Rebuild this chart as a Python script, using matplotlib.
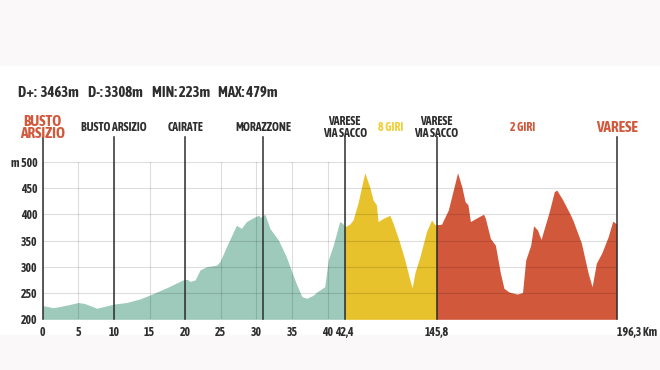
import numpy as np
import matplotlib
matplotlib.use('Agg')
import matplotlib.pyplot as plt
from matplotlib import font_manager
from matplotlib.patches import Rectangle


def peso(w):
    if isinstance(w, str):
        return 700 if 'bold' in w or 'black' in w or 'heavy' in w else 400
    return w


# cerca un carattere stretto e grassetto, non corsivo
candidati = []
for f in font_manager.fontManager.ttflist:
    stretto_nome = 'Narrow' in f.name or 'Condensed' in f.name
    stretto_st = f.stretch in ('condensed', 'semi-condensed', 'extra-condensed') or \
        (isinstance(f.stretch, int) and f.stretch < 500)
    if (stretto_nome or stretto_st) and peso(f.weight) >= 600 and f.style == 'normal':
        candidati.append((f.name, f.stretch, f.weight))
candidati.sort(key=lambda c: (abs(peso(c[2]) - 700), str(c)))
if candidati:
    fam, st, wt = candidati[0]
else:
    fam, st, wt = 'DejaVu Sans', 'normal', 'bold'

plt.rcParams['font.family'] = [fam, 'DejaVu Sans']
plt.rcParams['font.stretch'] = st
plt.rcParams['font.weight'] = wt
plt.rcParams['font.style'] = 'normal'

# profilo altimetrico (km reali, quota m)
km_verde = [0, 1.5, 3.4, 5.0, 5.9, 7.6, 8.5, 10.0, 11.8, 13.7, 15.0, 17.4, 19.7, 20.3,
            20.7, 21.4, 22.1, 23.0, 24.4, 24.9, 25.8, 27.2, 27.9, 28.6, 29.8, 30.3,
            30.6, 31.2, 31.9, 33.1, 34.2, 35.6, 36.4, 37.1, 38.0, 38.5, 39.6, 40.1,
            40.8, 41.7, 42.1, 42.4]
q_verde = [226, 222, 227, 232, 230, 221, 224, 229, 232, 239, 246, 260, 275, 276,
           272, 275, 294, 300, 303, 310, 338, 379, 373, 386, 395, 398,
           394, 400, 373, 351, 319, 268, 243, 240, 246, 252, 262, 313,
           341, 386, 383, 376]

km_giallo = [42.4, 48.0, 51.8, 57.4, 65.0, 70.6, 74.4, 78.1, 80.0, 85.6, 93.2, 96.9,
             104.5, 110.1, 115.8, 118.4, 121.4, 127.1, 134.5, 140.2, 144.0, 145.8]
q_giallo = [376, 381, 389, 421, 479, 452, 427, 418, 386, 392, 398, 383,
            345, 313, 275, 260, 288, 319, 367, 389, 380, 380]

km_rosso = [145.8, 147.2, 149.1, 150.5, 151.7, 152.9, 153.8, 154.6, 155.3, 157.6, 159.0,
            159.5, 160.9, 162.3, 163.7, 164.7, 166.1, 168.4, 169.9, 170.8, 172.2, 173.0,
            174.1, 175.1, 176.0, 177.4, 178.8, 179.5, 181.2, 183.1, 184.0, 186.4, 188.3,
            189.4, 190.6, 192.1, 193.9, 195.2, 196.3]
q_rosso = [380, 381, 408, 446, 479, 452, 424, 418, 386, 395, 400,
           392, 354, 341, 288, 259, 252, 248, 251, 313, 341, 378,
           370, 352, 373, 405, 443, 446, 427, 402, 389, 345, 288,
           262, 307, 326, 357, 387, 381]

localita_km = [0, 10, 20, 31, 42.4, 145.8, 196.3]
localita = ['BUSTO\nARSIZIO', 'BUSTO ARSIZIO', 'CAIRATE', 'MORAZZONE',
            'VARESE\nVIA SACCO', 'VARESE\nVIA SACCO', 'VARESE']

xticks = [0, 5, 10, 15, 20, 25, 30, 35, 40, 42.4, 145.8, 196.3]
xlabels = ['0', '5', '10', '15', '20', '25', '30', '35', '40', '42,4', '145,8', '196,3 Km']
yticks = [200, 250, 300, 350, 400, 450, 500]
ylabels = ['200', '250', '300', '350', '400', '450', 'm 500']

# scala a tratti: i due circuiti sono mostrati compressi
KM = np.array([0, 42.4, 145.8, 196.3])
DISP = np.array([0, 42.4, 55.3, 80.6])


def fwd(x):
    x = np.asarray(x, dtype=float)
    y = np.interp(x, KM, DISP)
    y = np.where(x < 0, x, y)
    y = np.where(x > KM[-1], DISP[-1] + (x - KM[-1]) * 0.5, y)
    return y


def inv(y):
    y = np.asarray(y, dtype=float)
    x = np.interp(y, DISP, KM)
    x = np.where(y < 0, y, x)
    x = np.where(y > DISP[-1], KM[-1] + (y - DISP[-1]) * 2.0, x)
    return x


verde = '#9dcaba'
giallo = '#e8c22c'
rosso = '#d2583b'
scuro = '#2e2e2e'

fig = plt.figure(figsize=(6.6, 3.7), dpi=100, facecolor='white')
fig.patches.append(Rectangle((0, 0.8243), 1, 0.18, transform=fig.transFigure,
                             color='#faf8f8', zorder=-1))
fig.patches.append(Rectangle((0, 0), 1, 0.0946, transform=fig.transFigure,
                             color='#faf8f8', zorder=-1))

ax = fig.add_axes([0.0647, 0.137, 0.8697, 0.426])
ax.set_xscale('function', functions=(fwd, inv))
ax.set_xlim(0, 196.3)
ax.set_ylim(200, 500)

ax.fill_between(km_verde, 200, q_verde, color=verde, lw=0, zorder=1)
ax.fill_between(km_giallo, 200, q_giallo, color=giallo, lw=0, zorder=1)
ax.fill_between(km_rosso, 200, q_rosso, color=rosso, lw=0, zorder=1)

ax.set_xticks(xticks)
ax.set_xticklabels(xlabels)
ax.set_yticks(yticks)
ax.set_yticklabels(ylabels)
ax.xaxis.set_minor_locator(matplotlib.ticker.NullLocator())
ax.tick_params(length=0, labelsize=8.5, labelcolor=scuro)
ax.tick_params(axis='x', pad=5)
ax.tick_params(axis='y', pad=4)
ax.get_xticklabels()[-1].set_ha('left')
ax.grid(True, color='black', alpha=0.13, lw=0.8, zorder=2)
ax.set_axisbelow(False)
for s in ax.spines.values():
    s.set_visible(False)

for i, (k, nome) in enumerate(zip(localita_km, localita)):
    ax.axvline(k, ymin=0, ymax=1.155, color=scuro, lw=1.1, clip_on=False, zorder=3)
    rosso_txt = i in (0, len(localita) - 1)
    ax.text(k, 1.214, nome, transform=ax.get_xaxis_transform(), ha='center', va='center',
            fontsize=11 if rosso_txt else 8.5, color=rosso if rosso_txt else scuro,
            linespacing=0.9)

ax.text(94, 1.214, '8 GIRI', transform=ax.get_xaxis_transform(), ha='center',
        va='center', fontsize=8.5, color='#f0cf3a')
ax.text(170, 1.214, '2 GIRI', transform=ax.get_xaxis_transform(), ha='center',
        va='center', fontsize=8.5, color=rosso)

stats = [(0.0268, 'D+:  3463m'), (0.1333, 'D-: 3308m'), (0.231, 'MIN: 223m'), (0.331, 'MAX: 479m')]
for xs, t in stats:
    fig.text(xs, 0.749, t, ha='left', va='center', fontsize=10.5, color=scuro)

fig.savefig('out.png', dpi=100)
